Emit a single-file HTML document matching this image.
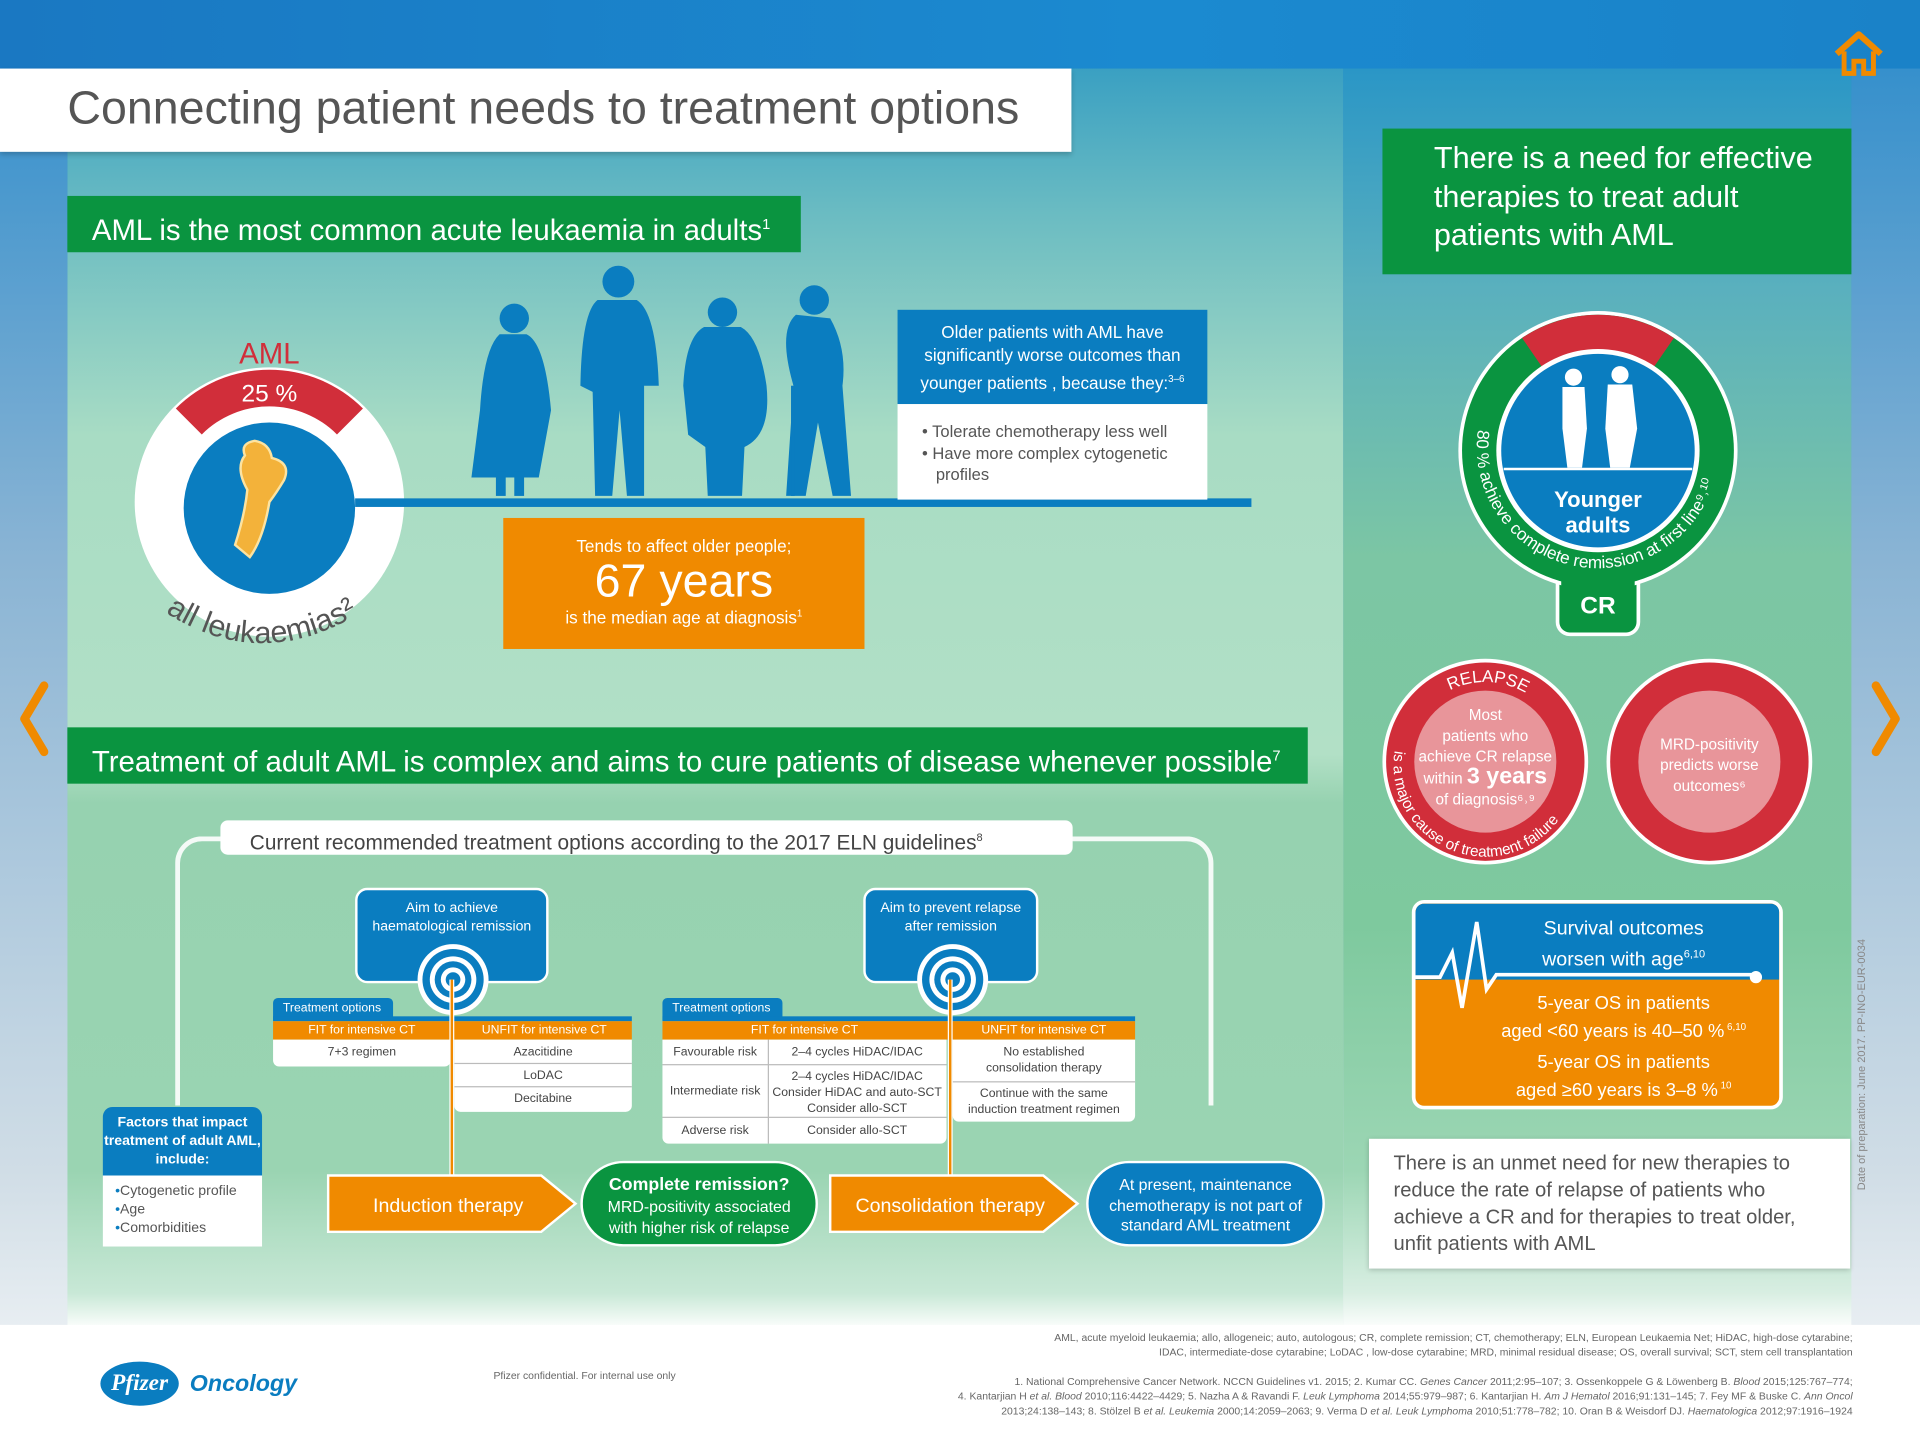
<!DOCTYPE html>
<html><head><meta charset="utf-8">
<style>
*{margin:0;padding:0;box-sizing:border-box}
html,body{width:1920px;height:1440px;overflow:hidden;background:#fff}
#w{position:absolute;left:0;top:0;width:1568px;height:1176px;transform:scale(1.2244898);transform-origin:0 0;font-family:"Liberation Sans",sans-serif;overflow:hidden}
.a{position:absolute}
.c{text-align:center}
.wt{color:#fff}
.tbl{background:#fff;font-size:10px;color:#444;border-radius:0 0 5px 5px}
.tbl div{position:absolute;text-align:center}
</style></head><body><div id="w">
<div class="a" style="left:0;top:0;width:1568px;height:1176px;background:linear-gradient(#1a82c9 0,#4a98cc 300px,#a8c4d8 700px,#dfe8ee 1080px,#fff 1090px)"></div>
<div class="a" style="left:0;top:0;width:1568px;height:56px;background:linear-gradient(90deg,#1a78c2,#1b8ad0 60%,#1a82c8)"></div>
<div class="a" style="left:55px;top:56px;width:1042px;height:1030px;background:linear-gradient(#3aa0c2 0,#6bbcc2 120px,#a8dcc4 300px,#b2e0c6 560px,#96d2b0 600px,#9ad4b2 900px,#c8e8d6 1000px,#fff 1030px)"></div>
<div class="a" style="left:1097px;top:56px;width:415px;height:1030px;background:linear-gradient(#2a96c6 0,#5ab0be 180px,#7cc6a4 400px,#7ec99e 700px,#9cd6b4 900px,#d8eee2 1000px,#fff 1030px)"></div>
<div class="a" style="left:1512px;top:56px;width:56px;height:1030px;background:linear-gradient(#3690cc,#8ab4d4 400px,#d0dde6 900px,#e8eef2)"></div>
<div class="a" style="left:0;top:56px;width:55px;height:1030px;background:linear-gradient(#3690cc,#8ab4d4 400px,#d0dde6 900px,#e8eef2)"></div>
<div class="a" style="left:0;top:1082px;width:1568px;height:94px;background:#fff"></div>
<svg class="a" style="left:1496px;top:24px" width="44" height="40"><path d="M4 20 L22 4 L40 20" stroke="#f08a00" stroke-width="5" fill="none" stroke-linejoin="round"/><path d="M10 18 V36 H18 V26 H26 V36 H34 V18" stroke="#f08a00" stroke-width="4" fill="none"/></svg>
<svg class="a" style="left:12px;top:555px" width="30" height="65"><path d="M24 5 L8 32 L24 59" stroke="#f08a00" stroke-width="7" fill="none" stroke-linecap="round" stroke-linejoin="round"/></svg>
<svg class="a" style="left:1526px;top:555px" width="30" height="65"><path d="M6 5 L22 32 L6 59" stroke="#f08a00" stroke-width="7" fill="none" stroke-linecap="round" stroke-linejoin="round"/></svg>
<div class="a" style="left:0;top:56px;width:875px;height:68px;background:#fff;box-shadow:0 2px 4px rgba(0,0,0,.2)"></div>
<div class="a" style="left:55px;top:68px;font-size:38px;color:#555;white-space:nowrap">Connecting patient needs to treatment options</div>
<div class="a wt" style="left:55px;top:160px;width:599px;height:46px;background:#0a9440;font-size:24px;line-height:46px;padding-left:20px;white-space:nowrap">AML is the most common acute leukaemia in adults<sup style="font-size:12px">1</sup></div>
<svg class="a" style="left:100px;top:280px" width="250" height="280">
<circle cx="120" cy="130" r="110" fill="#fff"/>
<path d="M 43.6 53.6 A 108 108 0 0 1 196.4 53.6 L 175.2 74.8 A 78 78 0 0 0 64.8 74.8 Z" fill="#d12e3a"/>
<circle cx="120" cy="135" r="70" fill="#0a7dc0"/>
<path d="M100 92 Q96 82 108 80 Q120 82 122 94 Q138 98 132 112 Q126 122 120 130 Q115 160 104 175 L92 165 Q100 140 102 120 Q92 102 100 92Z" fill="#f3b23a" stroke="#fde3a0" stroke-width="2"/>
<text x="120" y="17" fill="#d12e3a" font-size="24" text-anchor="middle" font-family="Liberation Sans">AML</text>
<text x="120" y="48" fill="#fff" font-size="20" text-anchor="middle" font-family="Liberation Sans">25 %</text>
<path id="arcL" d="M 35 220 Q 120 275 210 210" fill="none"/>
<text fill="#555" font-size="25" font-family="Liberation Sans"><textPath href="#arcL">all leukaemias²</textPath></text>
</svg>
<div class="a" style="left:290px;top:407px;width:732px;height:7px;background:#0a7dc0"></div>
<svg class="a" style="left:380px;top:215px" width="340" height="195" fill="#0a7dc0">
<circle cx="40" cy="45" r="12"/><path d="M28 58 Q15 70 12 120 L5 175 L60 175 L70 120 Q65 65 50 58Z"/><rect x="25" y="170" width="8" height="20"/><rect x="40" y="170" width="8" height="20"/>
<circle cx="125" cy="15" r="13"/><path d="M108 30 Q95 40 94 100 L104 105 L106 190 L120 190 L126 120 L132 190 L146 190 L146 100 L158 100 Q156 40 140 30Z"/>
<circle cx="210" cy="40" r="12"/><path d="M195 52 Q180 60 178 100 L182 140 L196 150 L198 190 L226 190 L228 150 Q250 140 246 100 Q240 60 225 52Z"/>
<circle cx="285" cy="30" r="12"/><path d="M270 42 Q255 55 268 100 L262 190 L278 190 L288 130 L300 190 L315 190 L308 100 Q312 70 298 45Z"/><rect x="266" y="100" width="3" height="90"/>
</svg>
<div class="a wt c" style="left:733px;top:253px;width:253px;height:77px;background:#0a7dc0;font-size:14px;line-height:19px;padding-top:9px">Older patients with AML have significantly worse outcomes than younger patients , because they:<sup style="font-size:8px">3–6</sup></div>
<div class="a" style="left:733px;top:330px;width:253px;height:78px;background:#fff;font-size:13.5px;color:#555;line-height:17.5px;padding:14px 10px 0 20px">• Tolerate chemotherapy less well<br>• Have more complex cytogenetic<br>&nbsp;&nbsp;&nbsp;profiles</div>
<div class="a wt c" style="left:411px;top:423px;width:295px;height:107px;background:#f08a00;padding-top:15px;font-size:14px">Tends to affect older people;<div style="font-size:38px;line-height:42px">67 years</div>is the median age at diagnosis<sup style="font-size:8px">1</sup></div>
<div class="a wt" style="left:55px;top:594px;width:1013px;height:46px;background:#0a9440;font-size:24px;line-height:46px;padding-left:20px;white-space:nowrap">Treatment of adult AML is complex and aims to cure patients of disease whenever possible<sup style="font-size:12px">7</sup></div>
<div class="a" style="left:143px;top:683px;width:848px;height:220px;border:4px solid #fff;border-bottom:none;border-radius:22px 22px 0 0;opacity:.9"></div>
<div class="a" style="left:180px;top:670px;width:696px;height:28px;background:#fff;border-radius:6px;font-size:17px;color:#444;line-height:28px;padding-left:24px;white-space:nowrap">Current recommended treatment options according to the 2017 ELN guidelines<sup style="font-size:9px">8</sup></div>
<div class="a wt c" style="left:290px;top:725px;width:158px;height:78px;background:#0a7dc0;border:2px solid #fff;border-radius:10px;font-size:11.5px;line-height:15px;padding-top:8px">Aim to achieve<br>haematological remission</div>
<div class="a wt c" style="left:705px;top:725px;width:143px;height:78px;background:#0a7dc0;border:2px solid #fff;border-radius:10px;font-size:11.5px;line-height:15px;padding-top:8px">Aim to prevent relapse<br>after remission</div>
<svg class="a" style="left:340px;top:770px" width="60" height="60"><circle cx="30" cy="30" r="29" fill="#fff"/><circle cx="30" cy="30" r="25" fill="#0a7dc0"/><circle cx="30" cy="30" r="19" fill="#fff"/><circle cx="30" cy="30" r="15" fill="#0a7dc0"/><circle cx="30" cy="30" r="10" fill="#fff"/><circle cx="30" cy="30" r="6" fill="#0a7dc0"/></svg>
<svg class="a" style="left:748px;top:770px" width="60" height="60"><circle cx="30" cy="30" r="29" fill="#fff"/><circle cx="30" cy="30" r="25" fill="#0a7dc0"/><circle cx="30" cy="30" r="19" fill="#fff"/><circle cx="30" cy="30" r="15" fill="#0a7dc0"/><circle cx="30" cy="30" r="10" fill="#fff"/><circle cx="30" cy="30" r="6" fill="#0a7dc0"/></svg>
<div class="a wt" style="left:223px;top:815px;width:98px;height:18px;background:#0a7dc0;border-radius:4px 4px 0 0;font-size:10px;line-height:18px;padding-left:8px">Treatment options</div>
<div class="a" style="left:223px;top:830px;width:293px;height:4px;background:#0a7dc0"></div>
<div class="a wt c" style="left:223px;top:834px;width:293px;height:15px;background:#f08a00;font-size:10px;line-height:15px"><span style="position:absolute;left:0;width:145px">FIT for intensive CT</span><span style="position:absolute;left:150px;width:143px">UNFIT for intensive CT</span></div>
<div class="a tbl" style="left:223px;top:849px;width:145px;height:22px"><div style="left:0;width:145px;top:5px">7+3 regimen</div></div>
<div class="a tbl" style="left:371px;top:849px;width:145px;height:59px"><div style="left:0;width:145px;top:5px">Azacitidine</div><div style="left:0;width:145px;top:19px;border-top:1px solid #bbb;padding-top:4px">LoDAC</div><div style="left:0;width:145px;top:38px;border-top:1px solid #bbb;padding-top:4px">Decitabine</div></div>
<div class="a wt" style="left:541px;top:815px;width:98px;height:18px;background:#0a7dc0;border-radius:4px 4px 0 0;font-size:10px;line-height:18px;padding-left:8px">Treatment options</div>
<div class="a" style="left:541px;top:830px;width:386px;height:4px;background:#0a7dc0"></div>
<div class="a wt c" style="left:541px;top:834px;width:386px;height:15px;background:#f08a00;font-size:10px;line-height:15px"><span style="position:absolute;left:0;width:232px">FIT for intensive CT</span><span style="position:absolute;left:237px;width:149px">UNFIT for intensive CT</span></div>
<div class="a tbl" style="left:541px;top:849px;width:232px;height:85px">
<div style="left:0;width:86px;top:5px">Favourable risk</div><div style="left:86px;width:146px;top:5px">2–4 cycles HiDAC/IDAC</div>
<div style="left:0;width:232px;top:20px;border-top:1px solid #bbb;height:1px"></div>
<div style="left:0;width:86px;top:37px">Intermediate risk</div><div style="left:86px;width:146px;top:24px;line-height:13px">2–4 cycles HiDAC/IDAC<br>Consider HiDAC and auto-SCT<br>Consider allo-SCT</div>
<div style="left:0;width:232px;top:63px;border-top:1px solid #bbb;height:1px"></div>
<div style="left:0;width:86px;top:69px">Adverse risk</div><div style="left:86px;width:146px;top:69px">Consider allo-SCT</div>
<div style="left:86px;top:0;width:1px;height:85px;background:#bbb"></div></div>
<div class="a tbl" style="left:778px;top:849px;width:149px;height:67px"><div style="left:0;width:149px;top:4px;line-height:13px">No established<br>consolidation therapy</div><div style="left:0;width:149px;top:34px;border-top:1px solid #bbb;padding-top:3px;line-height:13px">Continue with the same<br>induction treatment regimen</div></div>
<div class="a" style="left:367px;top:800px;width:4px;height:168px;background:#fff"></div>
<div class="a" style="left:368px;top:800px;width:2px;height:168px;background:#f08a00"></div>
<div class="a" style="left:774px;top:800px;width:4px;height:168px;background:#fff"></div>
<div class="a" style="left:775px;top:800px;width:2px;height:168px;background:#f08a00"></div>
<div class="a wt c" style="left:84px;top:904px;width:130px;height:56px;background:#0a7dc0;border-radius:8px 8px 0 0;font-size:11.5px;font-weight:bold;line-height:15px;padding-top:6px">Factors that impact treatment of adult AML, include:</div>
<div class="a" style="left:84px;top:960px;width:130px;height:58px;background:#fff;font-size:11.5px;color:#555;line-height:15px;padding:6px 0 0 10px"><span style="color:#0a7dc0">•</span>Cytogenetic profile<br><span style="color:#0a7dc0">•</span>Age<br><span style="color:#0a7dc0">•</span>Comorbidities</div>
<svg class="a" style="left:266px;top:958px" width="210" height="50"><path d="M2 2 H176 L204 25 L176 48 H2Z" fill="#f08a00" stroke="#fff" stroke-width="2"/><text x="100" y="32" fill="#fff" font-size="16" text-anchor="middle" font-family="Liberation Sans">Induction therapy</text></svg>
<div class="a wt c" style="left:474px;top:948px;width:194px;height:70px;background:#0a9440;border:2px solid #fff;border-radius:35px;font-size:13px;line-height:17px;padding-top:9px"><b style="font-size:14.5px">Complete remission?</b><br>MRD-positivity associated<br>with higher risk of relapse</div>
<svg class="a" style="left:676px;top:958px" width="210" height="50"><path d="M2 2 H176 L204 25 L176 48 H2Z" fill="#f08a00" stroke="#fff" stroke-width="2"/><text x="100" y="32" fill="#fff" font-size="16" text-anchor="middle" font-family="Liberation Sans">Consolidation therapy</text></svg>
<div class="a wt c" style="left:887px;top:948px;width:195px;height:70px;background:#0a7dc0;border:2px solid #fff;border-radius:35px;font-size:13px;line-height:16.5px;padding-top:10px">At present, maintenance chemotherapy is not part of standard AML treatment</div>
<div class="a wt" style="left:1129px;top:105px;width:383px;height:119px;background:#0a9440;font-size:25px;line-height:31.5px;padding:9px 0 0 42px">There is a need for effective therapies to treat adult patients with AML</div>
<svg class="a" style="left:1180px;top:250px" width="250" height="275">
<rect x="92" y="180" width="66" height="88" rx="10" fill="#0a9440" stroke="#fff" stroke-width="3"/>
<circle cx="125" cy="118" r="114" fill="#fff"/>
<circle cx="125" cy="118" r="111" fill="#0a9440"/>
<path d="M 63 26 A 111 111 0 0 1 187 26 L 167 55 A 76 76 0 0 0 83 55Z" fill="#d12e3a"/>
<rect x="95" y="190" width="60" height="75" rx="8" fill="#0a9440"/>
<circle cx="125" cy="118" r="83" fill="#fff"/>
<circle cx="125" cy="118" r="79" fill="#0a7dc0"/>
<line x1="48" y1="133" x2="202" y2="133" stroke="#fff" stroke-width="2"/>
<g fill="#fff"><circle cx="105" cy="58" r="7"/><path d="M96 66 H114 L116 100 L112 132 H100 L96 100Z"/><circle cx="143" cy="56" r="7"/><path d="M133 64 H153 L157 100 L151 132 H135 L131 100Z"/></g>
<text x="125" y="164" fill="#fff" font-size="18" font-weight="bold" text-anchor="middle" font-family="Liberation Sans">Younger</text>
<text x="125" y="185" fill="#fff" font-size="18" font-weight="bold" text-anchor="middle" font-family="Liberation Sans">adults</text>
<text x="125" y="251" fill="#fff" font-size="20" font-weight="bold" text-anchor="middle" font-family="Liberation Sans">CR</text>
<path id="arcR" d="M 27 101 A 99 99 0 1 0 223 101" fill="none"/>
<text fill="#fff" font-size="14" font-family="Liberation Sans"><textPath href="#arcR">80 % achieve complete remission at first line⁹˒¹⁰</textPath></text>
</svg>
<svg class="a" style="left:1128px;top:537px" width="360" height="172">
<circle cx="85" cy="85" r="84" fill="#fff"/><circle cx="85" cy="85" r="81" fill="#d12e3a"/><circle cx="85" cy="85" r="58" fill="#e8959a"/>
<circle cx="268" cy="85" r="84" fill="#fff"/><circle cx="268" cy="85" r="81" fill="#d12e3a"/><circle cx="268" cy="85" r="58" fill="#e8959a"/>
<path id="arcT" d="M 20 85 A 65 65 0 0 1 150 85" fill="none"/>
<text fill="#fff" font-size="14" font-family="Liberation Sans"><textPath href="#arcT" startOffset="72">RELAPSE</textPath></text>
<path id="arcB" d="M 11 76 A 75 75 0 1 0 158 70" fill="none"/>
<text fill="#fff" font-size="12.5" font-family="Liberation Sans"><textPath href="#arcB">is a major cause of treatment failure</textPath></text>
<g fill="#fff" font-family="Liberation Sans" font-size="12.5" text-anchor="middle"><text x="85" y="51">Most</text><text x="85" y="68">patients who</text><text x="85" y="85">achieve CR relapse</text><text x="85" y="103">within <tspan font-size="19" font-weight="bold">3 years</tspan></text><text x="85" y="120">of diagnosis⁶˒⁹</text>
<text x="268" y="75">MRD-positivity</text><text x="268" y="92">predicts worse</text><text x="268" y="109">outcomes⁶</text></g>
</svg>
<div class="a" style="left:1153px;top:735px;width:303px;height:171px;border:3px solid #fff;border-radius:10px;overflow:hidden;background:#f08a00">
<div style="height:62px;background:#0a7dc0"></div>
<div class="a wt c" style="left:70px;top:10px;width:200px;font-size:16px;line-height:21px">Survival outcomes<br>worsen with age<sup style="font-size:9px">6,10</sup></div>
<svg class="a" style="left:0;top:0" width="300" height="100"><path d="M0 60 H20 L30 40 L38 85 L50 15 L58 70 L66 58 H278" stroke="#fff" stroke-width="3" fill="none"/><circle cx="278" cy="60" r="5" fill="#fff"/></svg>
<div class="a wt c" style="left:50px;top:72px;width:240px;font-size:15px;line-height:19px">5-year OS in patients<br>aged &lt;60 years is 40–50 %<sup style="font-size:8px"> 6,10</sup></div>
<div class="a wt c" style="left:50px;top:120px;width:240px;font-size:15px;line-height:19px">5-year OS in patients<br>aged ≥60 years is 3–8 %<sup style="font-size:8px"> 10</sup></div>
</div>
<div class="a" style="left:1118px;top:930px;width:393px;height:106px;background:#fff;box-shadow:0 1px 4px rgba(0,0,0,.2);font-size:16.5px;color:#555;line-height:22px;padding:9px 10px 0 20px">There is an unmet need for new therapies to reduce the rate of relapse of patients who achieve a CR and for therapies to treat older, unfit patients with AML</div>
<div class="a" style="left:1515px;top:972px;transform:rotate(-90deg);transform-origin:0 0;font-size:9px;color:#888;white-space:nowrap">Date of preparation: June 2017. PP-INO-EUR-0034</div>
<div class="a" style="left:82px;top:1112px;width:64px;height:36px;border-radius:50%;background:#0a7dc0;color:#fff;font:italic bold 19px 'Liberation Serif',serif;text-align:center;line-height:36px">Pfizer</div>
<div class="a" style="left:155px;top:1120px;font-size:19px;font-style:italic;font-weight:bold;color:#0a7dc0">Oncology</div>
<div class="a" style="left:403px;top:1118px;font-size:8.5px;color:#666">Pfizer confidential. For internal use only</div>
<div class="a" style="left:700px;top:1087px;width:813px;font-size:8.5px;color:#666;text-align:right;line-height:11.5px">AML, acute myeloid leukaemia; allo, allogeneic; auto, autologous; CR, complete remission; CT, chemotherapy; ELN, European Leukaemia Net; HiDAC, high-dose cytarabine;<br>IDAC, intermediate-dose cytarabine; LoDAC , low-dose cytarabine; MRD, minimal residual disease; OS, overall survival; SCT, stem cell transplantation</div>
<div class="a" style="left:600px;top:1122px;width:913px;font-size:8.5px;color:#666;text-align:right;line-height:12px">1. National Comprehensive Cancer Network. NCCN Guidelines v1. 2015; 2. Kumar CC. <i>Genes Cancer</i> 2011;2:95–107; 3. Ossenkoppele G &amp; Löwenberg B. <i>Blood</i> 2015;125:767–774;<br>4. Kantarjian H <i>et al. Blood</i> 2010;116:4422–4429; 5. Nazha A &amp; Ravandi F. <i>Leuk Lymphoma</i> 2014;55:979–987; 6. Kantarjian H. <i>Am J Hematol</i> 2016;91:131–145; 7. Fey MF &amp; Buske C. <i>Ann Oncol</i><br>2013;24:138–143; 8. Stölzel B <i>et al. Leukemia</i> 2000;14:2059–2063; 9. Verma D <i>et al. Leuk Lymphoma</i> 2010;51:778–782; 10. Oran B &amp; Weisdorf DJ. <i>Haematologica</i> 2012;97:1916–1924</div>
</div></body></html>
